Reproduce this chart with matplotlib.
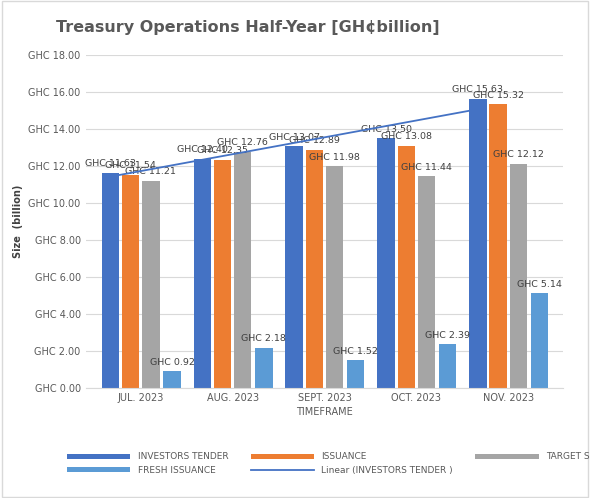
import numpy as np
import matplotlib.pyplot as plt
from matplotlib.patches import Rectangle

months = ["JUL. 2023", "AUG. 2023", "SEPT. 2023", "OCT. 2023", "NOV. 2023"]
investors_tender = [11.63, 12.40, 13.07, 13.50, 15.63]
issuance = [11.54, 12.35, 12.89, 13.08, 15.32]
target_size = [11.21, 12.76, 11.98, 11.44, 12.12]
fresh_issuance = [0.92, 2.18, 1.52, 2.39, 5.14]

series = [
    ("INVESTORS TENDER", investors_tender, "#4472C4", -0.33),
    ("ISSUANCE", issuance, "#ED7D31", -0.11),
    ("TARGET SIZE", target_size, "#A5A5A5", 0.11),
    ("FRESH ISSUANCE", fresh_issuance, "#5B9BD5", 0.34),
]

fig = plt.figure(figsize=(5.9, 4.98), dpi=100)
fig.patches.append(Rectangle((0.003, 0.003), 0.994, 0.994, transform=fig.transFigure,
                             fill=False, edgecolor="#D9D9D9", linewidth=1))
ax = fig.add_axes([0.145, 0.22, 0.81, 0.67])
x = np.arange(len(months))

for name, vals, color, off in series:
    ax.bar(x + off, vals, width=0.19, color=color, label=name, zorder=2)
    for xi, v in zip(x + off, vals):
        ax.text(xi, v + 0.25, f"GHC {v:.2f}", ha="center", va="bottom",
                fontsize=6.8, color="#404040", zorder=3)

# linear trend of investors tender
coef = np.polyfit(x, investors_tender, 1)
ax.plot(x - 0.33, np.polyval(coef, x), color="#4472C4", linewidth=1.3,
        label="Linear (INVESTORS TENDER )", zorder=4)

ax.set_ylim(0, 18)
ax.set_yticks(np.arange(0, 19, 2))
ax.set_yticklabels([f"GHC {v:.2f}" for v in np.arange(0, 19, 2)], fontsize=7, color="#595959")
ax.set_xticks(x)
ax.set_xticklabels(months, fontsize=7, color="#595959")
ax.set_xlim(-0.6, 4.6)
ax.tick_params(length=0)
ax.grid(axis="y", color="#D9D9D9", linewidth=0.8, zorder=0)
for s in ["top", "right", "left"]:
    ax.spines[s].set_visible(False)
ax.spines["bottom"].set_color("#D9D9D9")
ax.set_ylabel("Size  (billion)", fontsize=7, fontweight="bold", color="#404040")
ax.set_xlabel("TIMEFRAME", fontsize=7, color="#595959", labelpad=3)
fig.text(0.42, 0.935, "Treasury Operations Half-Year [GH\u00a2billion]", ha="center",
         fontsize=11.5, fontweight="bold", color="#595959")

handles, labels = ax.get_legend_handles_labels()
# row-major order: tender, issuance, target / fresh, linear
order = [1, 4, 2, 0, 3]
fig.legend([handles[i] for i in order], [labels[i] for i in order], loc="lower left",
           bbox_to_anchor=(0.1, 0.03), ncol=3, frameon=False, fontsize=6.5,
           handlelength=7, handleheight=0.5, columnspacing=2.5, labelcolor="#595959")

fig.savefig("out.png", dpi=100)
